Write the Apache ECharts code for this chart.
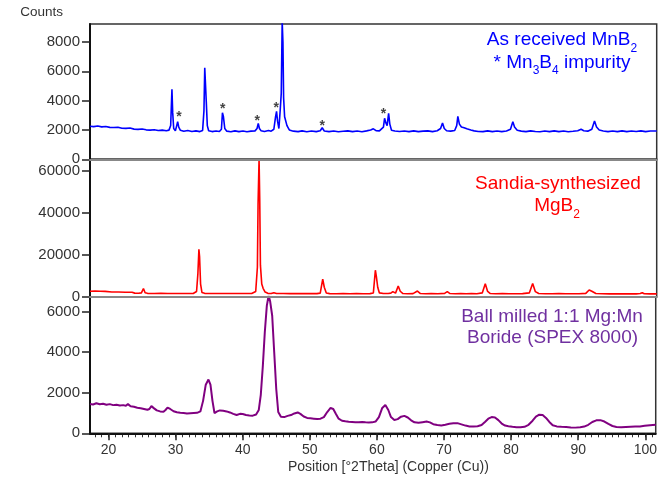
<!DOCTYPE html>
<html>
<head>
<meta charset="utf-8">
<script src="https://cdn.jsdelivr.net/npm/echarts@6/dist/echarts.min.js"></script>
<style>
  html, body { margin: 0; padding: 0; background: #fff; }
  #chart { width: 660px; height: 486px; }
</style>
</head>
<body>
<div id="chart"></div>
<script>
// x range in degrees 2theta
const xMin = 17.25
const xMax = 101.55

// tick values
const xMajorTicks = [20, 30, 40, 50, 60, 70, 80, 90, 100]
const xMinorTicks = []
for (let t = 18; t <= 101; t++) xMinorTicks.push(t)
const mnb2Ticks = [0, 2000, 4000, 6000, 8000]
const mgb2Ticks = [0, 20000, 40000, 60000]
const milledTicks = [0, 2000, 4000, 6000]

// As received MnB2 (blue)
const mnb2 = [
  [17.25, 2260], [17.8, 2230], [18.4, 2270], [19.0, 2210], [19.6, 2240], [20.2, 2180], [20.8, 2170],
  [21.4, 2190], [22.0, 2120], [22.6, 2110], [23.2, 2130], [23.8, 2060], [24.4, 2040], [25.0, 2070],
  [25.6, 2010], [26.2, 1990], [26.8, 2020], [27.4, 1960], [28.0, 1990], [28.6, 1950], [29.0, 1990],
  [29.25, 2300], [29.35, 3600], [29.44, 4780], [29.55, 3200], [29.7, 2100], [29.95, 1950],
  [30.15, 2300], [30.29, 2560], [30.45, 2200], [30.7, 1980], [31.2, 1910], [31.8, 1960], [32.4, 1900],
  [33.0, 1940], [33.6, 1890], [34.0, 1960], [34.2, 3300], [34.32, 6250], [34.45, 6200], [34.55, 3900],
  [34.7, 2300], [34.9, 1950], [35.4, 1890], [36.0, 1930], [36.5, 1900], [36.8, 2050], [36.95, 3180],
  [37.1, 2900], [37.3, 2100], [37.6, 1920], [38.2, 1880], [38.8, 1940], [39.4, 1890], [40.0, 1930],
  [40.6, 1880], [41.2, 1920], [41.8, 1940], [42.1, 2100], [42.28, 2450], [42.45, 2100], [42.7, 1950],
  [43.2, 1890], [43.8, 1970], [44.2, 1920], [44.6, 2050], [44.85, 2900], [45.0, 3270], [45.15, 2600],
  [45.35, 2100], [45.55, 3400], [45.7, 4500], [45.84, 9400], [45.95, 8000], [46.05, 4200], [46.2, 2900],
  [46.35, 2950], [46.55, 2300], [46.9, 2000], [47.5, 1920], [48.2, 1890], [48.8, 1940], [49.5, 1880],
  [50.2, 1930], [50.9, 1890], [51.5, 1950], [51.79, 2150], [52.1, 1930], [52.8, 1890], [53.5, 1930],
  [54.2, 1880], [54.9, 1910], [55.6, 1940], [56.3, 1890], [57.0, 1930], [57.7, 1880], [58.4, 1940],
  [59.0, 2000], [59.4, 2080], [59.8, 1950], [60.3, 1940], [60.9, 2200], [61.07, 2800], [61.25, 2500],
  [61.45, 2300], [61.67, 3140], [61.85, 2400], [62.1, 1980], [62.6, 1930], [63.3, 1900], [64.0, 1930],
  [64.7, 1890], [65.4, 1940], [66.1, 1890], [66.8, 1920], [67.5, 1940], [68.2, 1890], [68.9, 1950],
  [69.4, 2100], [69.69, 2480], [69.95, 2100], [70.3, 1950], [70.9, 1920], [71.5, 1960], [71.8, 2300],
  [71.97, 2930], [72.2, 2400], [72.5, 2200], [72.9, 2150], [73.3, 2080], [73.56, 2070], [73.9, 2000],
  [74.4, 1940], [75.0, 1900], [75.7, 1890], [76.4, 1940], [77.1, 1890], [77.8, 1930], [78.5, 1890],
  [79.2, 1930], [79.8, 2050], [80.15, 2570], [80.4, 2200], [80.8, 1980], [81.4, 1920], [82.1, 1890],
  [82.8, 1940], [83.5, 1900], [84.2, 1880], [84.9, 1930], [85.6, 1890], [86.3, 1940], [87.0, 1890],
  [87.7, 1930], [88.4, 1880], [89.1, 1910], [89.8, 1950], [90.3, 2050], [90.7, 1950], [91.3, 1920],
  [91.9, 2050], [92.3, 2610], [92.6, 2200], [93.0, 2000], [93.6, 1930], [94.3, 1890], [95.0, 1930],
  [95.7, 1890], [96.4, 1940], [97.1, 1890], [97.8, 1930], [98.5, 1900], [99.2, 1940], [99.9, 1890],
  [100.6, 1930], [101.55, 1930]
]

// Mn3B4 impurity markers (asterisk positions)
const starX = [30.48, 36.98, 42.13, 44.95, 51.79, 60.92]
const starY = [3090, 3615, 2800, 3680, 2500, 3270]

// Sandia-synthesized MgB2 (red)
const mgb2 = [
  [17.25, 2600], [18.0, 2650], [18.8, 2600], [19.5, 2550], [20.5, 2250], [21.5, 2200], [22.5, 2150],
  [23.5, 2100], [23.9, 1700], [24.5, 1650], [24.9, 1800], [25.2, 3900], [25.45, 1900], [25.8, 1600],
  [26.8, 1550], [27.8, 1600], [28.8, 1550], [29.8, 1500], [30.8, 1550], [31.8, 1500], [32.6, 1550],
  [33.1, 2500], [33.3, 11000], [33.45, 22500], [33.55, 19000], [33.7, 6000], [33.9, 2000], [34.3, 1600],
  [35.3, 1550], [36.3, 1500], [37.3, 1550], [38.3, 1500], [39.3, 1550], [40.3, 1500], [41.3, 1550],
  [41.9, 2500], [42.15, 14000], [42.25, 44000], [42.4, 65500], [42.5, 46000], [42.6, 15000],
  [42.8, 6000], [43.0, 4000], [43.3, 2200], [43.7, 1600], [44.2, 1500], [44.6, 1900], [45.0, 1500],
  [46.0, 1550], [47.0, 1450], [48.0, 1500], [49.0, 1450], [50.0, 1500], [51.0, 1450], [51.5, 1700],
  [51.87, 8400], [52.1, 4500], [52.4, 1800], [52.9, 1450], [53.9, 1400], [54.9, 1450], [55.9, 1400],
  [56.9, 1450], [57.9, 1400], [58.9, 1450], [59.4, 1800], [59.7, 12600], [59.85, 9500], [60.05, 4500],
  [60.3, 1800], [60.9, 1500], [61.6, 1500], [62.0, 1700], [62.3, 2400], [62.7, 1700], [63.1, 5100],
  [63.4, 2600], [63.8, 1500], [64.5, 1400], [65.3, 1450], [65.96, 2700], [66.4, 1500], [67.2, 1400],
  [68.0, 1450], [69.0, 1400], [70.0, 1600], [70.4, 2400], [70.8, 1500], [71.6, 1400], [72.4, 1450],
  [73.2, 1400], [74.0, 1450], [74.8, 1400], [75.6, 1800], [76.05, 6200], [76.4, 2500], [76.8, 1500],
  [77.6, 1400], [78.6, 1450], [79.6, 1400], [80.6, 1400], [81.6, 1450], [82.6, 1800], [83.1, 6300],
  [83.5, 2400], [84.0, 1500], [85.0, 1400], [86.0, 1400], [87.0, 1450], [88.0, 1400], [89.0, 1400],
  [90.0, 1400], [91.0, 1600], [91.5, 3200], [91.9, 2600], [92.1, 2300], [92.5, 1500], [93.5, 1400],
  [94.5, 1350], [95.5, 1400], [96.5, 1350], [97.5, 1400], [98.5, 1350], [99.1, 1500], [99.4, 1900],
  [99.7, 1400], [100.5, 1350], [101.55, 1350]
]

// Ball milled 1:1 Mg:Mn boride (purple)
const milled = [
  [17.25, 1450], [17.7, 1420], [18.2, 1480], [18.7, 1430], [19.2, 1460], [19.7, 1410], [20.2, 1440],
  [20.7, 1390], [21.2, 1410], [21.7, 1370], [22.2, 1390], [22.6, 1360], [22.9, 1440], [23.3, 1330],
  [23.8, 1310], [24.3, 1260], [24.8, 1240], [25.3, 1200], [25.8, 1160], [26.1, 1200], [26.4, 1340],
  [26.8, 1230], [27.2, 1130], [27.7, 1080], [28.2, 1060], [28.5, 1150], [28.8, 1270], [29.2, 1200],
  [29.7, 1090], [30.2, 1040], [30.7, 1010], [31.2, 1000], [31.7, 980], [32.2, 990], [32.7, 1000],
  [33.2, 1010], [33.7, 1080], [34.1, 1600], [34.5, 2400], [34.9, 2650], [35.2, 2400], [35.5, 1600],
  [35.8, 1000], [36.2, 1080], [36.6, 1130], [37.1, 1110], [37.6, 1080], [38.1, 1030], [38.6, 960],
  [39.1, 900], [39.6, 960], [40.0, 950], [40.5, 900], [41.0, 880], [41.5, 870], [42.0, 930],
  [42.4, 1150], [42.7, 1900], [43.0, 3300], [43.3, 5000], [43.6, 6300], [43.87, 6800], [44.1, 6500],
  [44.4, 5800], [44.7, 4000], [45.0, 2200], [45.3, 1050], [45.7, 820], [46.2, 800], [46.7, 860],
  [47.2, 900], [47.7, 980], [48.2, 1030], [48.6, 960], [49.1, 830], [49.6, 760], [50.1, 740],
  [50.6, 720], [51.1, 700], [51.6, 720], [52.1, 800], [52.6, 1050], [53.1, 1250], [53.5, 1200],
  [53.9, 950], [54.3, 720], [54.8, 620], [55.3, 590], [55.8, 570], [56.3, 560], [56.8, 550],
  [57.3, 545], [57.8, 560], [58.3, 540], [58.8, 530], [59.3, 540], [59.8, 580], [60.3, 800],
  [60.8, 1250], [61.26, 1400], [61.7, 1150], [62.1, 800], [62.6, 660], [63.1, 700], [63.6, 820],
  [64.1, 860], [64.6, 780], [65.1, 640], [65.6, 540], [66.2, 520], [66.8, 550], [67.4, 580],
  [67.9, 540], [68.4, 450], [69.0, 410], [69.6, 390], [70.2, 420], [70.8, 470], [71.4, 500],
  [72.0, 500], [72.6, 440], [73.2, 380], [73.8, 340], [74.4, 330], [75.0, 350], [75.6, 410],
  [76.1, 560], [76.6, 720], [77.1, 800], [77.6, 780], [78.1, 650], [78.6, 480], [79.1, 380],
  [79.6, 350], [80.2, 320], [80.8, 300], [81.4, 300], [82.0, 320], [82.6, 420], [83.2, 620],
  [83.7, 820], [84.2, 920], [84.7, 900], [85.2, 760], [85.7, 560], [86.2, 400], [86.8, 340],
  [87.5, 320], [88.2, 310], [88.9, 290], [89.6, 280], [90.3, 300], [90.9, 330], [91.5, 420],
  [92.1, 560], [92.7, 640], [93.3, 650], [93.9, 580], [94.5, 460], [95.1, 360], [95.7, 310],
  [96.4, 300], [97.1, 310], [97.8, 320], [98.5, 330], [99.2, 340], [99.9, 370], [100.7, 400],
  [101.55, 420]
]

const font = "'Liberation Sans', Arial, sans-serif"
const chart = echarts.init(document.getElementById('chart'))

const panelGrid = (top, height) => ({
  left: 90, right: 3.3, top, height,
  show: true, borderColor: '#333', borderWidth: 1.5,
})

const dividerAxis = gridIndex => ({
  type: 'value', gridIndex, min: xMin, max: xMax, z: 5,
  axisLine: { lineStyle: { color: '#888', width: 2 } },
  axisTick: { show: false },
  axisLabel: { show: false },
  splitLine: { show: false },
})

const countAxis = (gridIndex, max, ticks, extra) => Object.assign({
  type: 'value', gridIndex, min: 0, max,
  axisLine: { show: true, lineStyle: { color: '#111', width: 2 } },
  axisTick: { show: true, length: 8, customValues: ticks, lineStyle: { color: '#222', width: 1.5 } },
  axisLabel: {
    customValues: ticks, margin: 10, fontSize: 15, color: '#333', fontFamily: font,
    formatter: v => String(v),
  },
  splitLine: { show: false },
}, extra)

const label = (text, x, y, color) => ({
  type: 'text', x, y,
  style: {
    text, x: 0, y: 0, align: 'center', verticalAlign: 'top', fill: color,
    fontFamily: font, fontSize: 19, lineHeight: 22,
    rich: {
      m: { fontFamily: font, fontSize: 19, lineHeight: 22, verticalAlign: 'top', fill: color },
      s: { fontFamily: font, fontSize: 12, lineHeight: 12, verticalAlign: 'top', padding: [12, 0, 0, 0], fill: color },
    },
  },
})

const option = {
  animation: false,
  backgroundColor: '#fff',
  grid: [panelGrid(24, 135.3), panelGrid(159.3, 137.4), panelGrid(296.7, 136.6)],
  xAxis: [
    dividerAxis(0),
    dividerAxis(1),
    {
      type: 'value', gridIndex: 2, min: xMin, max: xMax, z: 5,
      axisLine: { lineStyle: { color: '#111', width: 2 } },
      axisTick: { length: 7, customValues: xMajorTicks, lineStyle: { color: '#222', width: 1.5 } },
      axisLabel: { customValues: xMajorTicks, margin: 10, fontSize: 14, color: '#333', fontFamily: font },
      splitLine: { show: false },
      name: 'Position [°2Theta] (Copper (Cu))',
      nameLocation: 'middle', nameGap: 27,
      nameTextStyle: { fontSize: 14, color: '#333', fontFamily: font, padding: [0, 0, 0, 31] },
    },
    {
      type: 'value', gridIndex: 2, min: xMin, max: xMax, position: 'bottom',
      axisLine: { show: false },
      axisTick: { length: 4, customValues: xMinorTicks, lineStyle: { color: '#333', width: 1 } },
      axisLabel: { show: false },
      splitLine: { show: false },
    },
  ],
  yAxis: [
    countAxis(0, 9230, mnb2Ticks, {
      name: 'Counts', nameLocation: 'end', nameGap: 5,
      nameTextStyle: { fontSize: 13.5, color: '#333', fontFamily: font, align: 'right', verticalAlign: 'bottom', padding: [0, 27, 0, 0] },
    }),
    countAxis(1, 65330, mgb2Ticks),
    countAxis(2, 6740, milledTicks),
  ],
  series: [
    {
      type: 'line', xAxisIndex: 0, yAxisIndex: 0, data: mnb2,
      showSymbol: false, lineStyle: { color: '#0000ff', width: 1.6 }, itemStyle: { color: '#0000ff' },
    },
    {
      type: 'scatter', xAxisIndex: 0, yAxisIndex: 0,
      data: starX.map((x, i) => [x, starY[i]]),
      symbolSize: 0, z: 6,
      label: {
        show: true, position: 'inside', formatter: '*', offset: [0, 3],
        fontSize: 14, fontWeight: 'bold', color: '#111', fontFamily: font,
      },
    },
    {
      type: 'line', xAxisIndex: 1, yAxisIndex: 1, data: mgb2,
      showSymbol: false, lineStyle: { color: '#ff0000', width: 1.6 }, itemStyle: { color: '#ff0000' },
    },
    {
      type: 'line', xAxisIndex: 2, yAxisIndex: 2, data: milled,
      showSymbol: false, lineStyle: { color: '#800080', width: 2 }, itemStyle: { color: '#800080' },
    },
  ],
  graphic: [
    label('{m|As received MnB}{s|2}', 562, 30.7, '#0000ff'),
    label('{m|* Mn}{s|3}{m|B}{s|4}{m| impurity}', 562, 53, '#0000ff'),
    label('{m|Sandia-synthesized}', 558, 174.7, '#ff0000'),
    label('{m|MgB}{s|2}', 557, 196.3, '#ff0000'),
    label('{m|Ball milled 1:1 Mg:Mn}', 552, 307.3, '#7030a0'),
    label('{m|Boride (SPEX 8000)}', 552.5, 328.3, '#7030a0'),
  ],
}

chart.setOption(option)
</script>
</body>
</html>
